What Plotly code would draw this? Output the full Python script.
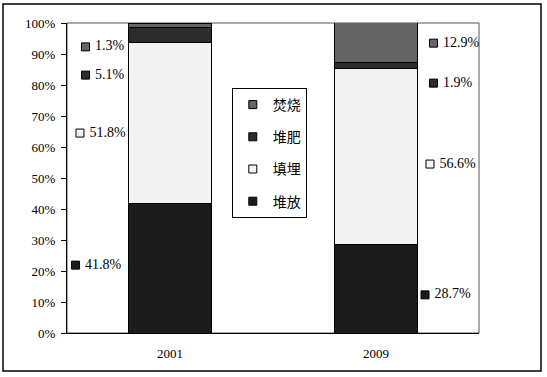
import plotly.graph_objects as go

# ---- data ----
years = ["2001", "2009"]
categories = ["堆放", "填埋", "堆肥", "焚烧"]
duifang = [41.8, 28.7]   # 堆放
tianmai = [51.8, 56.6]   # 填埋
duifei = [5.1, 1.9]      # 堆肥
fenshao = [1.3, 12.9]    # 焚烧
y_ticks = [0, 10, 20, 30, 40, 50, 60, 70, 80, 90, 100]

series = [duifang, tianmai, duifei, fenshao]

# ---- styles / placement ----
colors = ["#1c1c1c", "#f3f3f3", "#2c2c2c", "#656565"]
# label placement (axis units): per category -> [(x, y) for 2001, (x, y) for 2009]
label_place = {
    "堆放": [(-0.459, 21.9), (1.238, 12.3)],
    "填埋": [(-0.437, 64.5), (1.262, 54.5)],
    "堆肥": [(-0.410, 83.2), (1.279, 80.6)],
    "焚烧": [(-0.410, 92.3), (1.279, 93.5)],
}
num_font = "Liberation Serif"
cjk_font = "Noto Sans CJK SC"

fig = go.Figure()
xpos = list(range(len(years)))

for name, vals, col in zip(categories, series, colors):
    fig.add_trace(go.Bar(
        x=xpos, y=vals, name=name, width=0.4,
        marker=dict(color=col, line=dict(color="#000000", width=1)),
        showlegend=False, hoverinfo="skip",
    ))

# value labels with small squares
for name, vals, col in zip(categories, series, colors):
    pts = label_place[name]
    fig.add_trace(go.Scatter(
        x=[p[0] for p in pts], y=[p[1] for p in pts],
        mode="markers+text",
        marker=dict(symbol="square", size=8, color=col,
                    line=dict(color="#000000", width=1)),
        text=[f" {v}%" for v in vals], textposition="middle right",
        textfont=dict(family=num_font, size=14, color="#000000"),
        showlegend=False, cliponaxis=False, hoverinfo="skip",
    ))

# legend entries (top to bottom: 焚烧, 堆肥, 填埋, 堆放)
for name, col in reversed(list(zip(categories, colors))):
    fig.add_trace(go.Scatter(
        x=[None], y=[None], mode="markers", name=name, legendgroup=name,
        marker=dict(symbol="square", size=8, color=col,
                    line=dict(color="#000000", width=1)),
    ))

fig.update_layout(
    width=547, height=377,
    margin=dict(l=67, r=68, t=23, b=44),
    paper_bgcolor="#ffffff", plot_bgcolor="#ffffff",
    barmode="stack",
    font=dict(family=num_font, size=13, color="#000000"),
    legend=dict(
        x=0.40, y=0.371, xanchor="left", yanchor="bottom",
        traceorder="grouped", tracegroupgap=11,
        bordercolor="#000000", borderwidth=1, bgcolor="#ffffff",
        font=dict(family=cjk_font, size=14, color="#000000"),
    ),
    xaxis=dict(
        range=[-0.5, 1.5], tickvals=xpos, ticktext=years,
        showline=True, linecolor="#000000", linewidth=1,
        showgrid=False, zeroline=False, ticks="",
        ticklabelstandoff=8,
        tickfont=dict(family=num_font, size=13),
    ),
    yaxis=dict(
        range=[0, 100], tickvals=y_ticks, ticktext=[f"{v}%" for v in y_ticks],
        showline=True, linecolor="#000000", linewidth=1,
        showgrid=False, zeroline=False,
        ticks="outside", ticklen=5, tickcolor="#000000",
        ticklabelstandoff=3,
        tickfont=dict(family=num_font, size=13),
    ),
    shapes=[
        # plot area frame (gray top/right)
        dict(type="rect", xref="paper", yref="paper", x0=0, y0=0, x1=1, y1=1,
             line=dict(color="#555555", width=1), layer="below"),
        # outer chart frame
        dict(type="rect", xref="paper", yref="paper",
             x0=-0.1553, y0=-0.1226, x1=1.1505, y1=1.0613,
             line=dict(color="#000000", width=1.5)),
    ],
)

fig.write_html("out.html", config={"displayModeBar": False},
               post_script="document.body.style.margin='0';")
